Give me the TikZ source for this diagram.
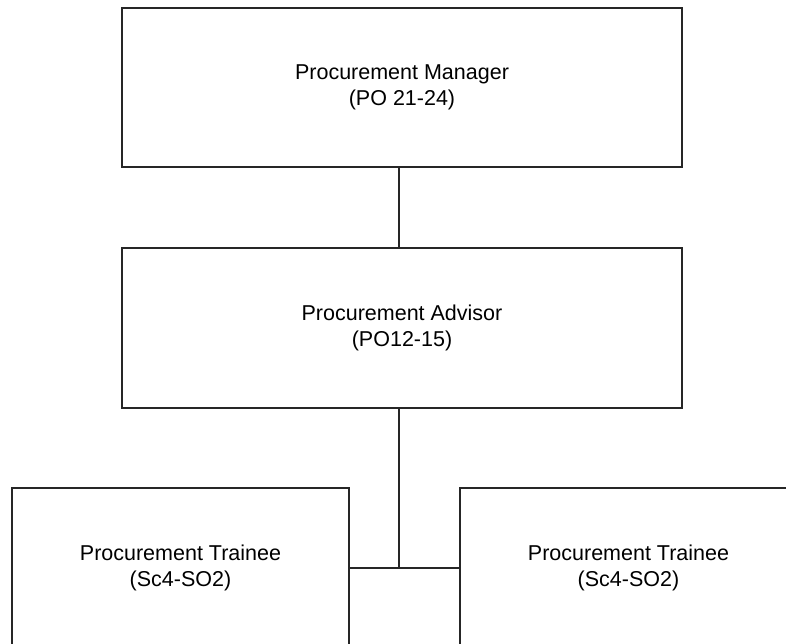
\documentclass[tikz,border=0pt]{standalone}
\usepackage{fontspec}
\setmainfont{Liberation Sans}
\begin{document}
\begin{tikzpicture}[x=1pt,y=-1pt,
  orgbox/.style={draw=black!85, line width=1.3pt, fill=white, rectangle, inner sep=0pt,
    align=center, font=\fontsize{21.5}{26.5}\selectfont},
  link/.style={draw=black!85, line width=1.3pt}]
\useasboundingbox (0,0) rectangle (786,644);
\clip (0,0) rectangle (786,644);
\node[orgbox, minimum width=560pt, minimum height=159pt] (mgr) at (402,87.5) {Procurement Manager\\(PO 21-24)};
\node[orgbox, minimum width=560pt, minimum height=160pt] (adv) at (402,328) {Procurement Advisor\\(PO12-15)};
\node[orgbox, minimum width=337pt, minimum height=160pt] (t1) at (180.5,568) {Procurement Trainee\\(Sc4-SO2)};
\node[orgbox, minimum width=337pt, minimum height=160pt] (t2) at (628.5,568) {Procurement Trainee\\(Sc4-SO2)};
\coordinate (j) at (399,568);
\draw[link] (mgr.south -| j) -- (adv.north -| j);
\draw[link] (adv.south -| j) -- (j);
\draw[link] (t1.east) -- (t2.west);
\end{tikzpicture}
\end{document}
